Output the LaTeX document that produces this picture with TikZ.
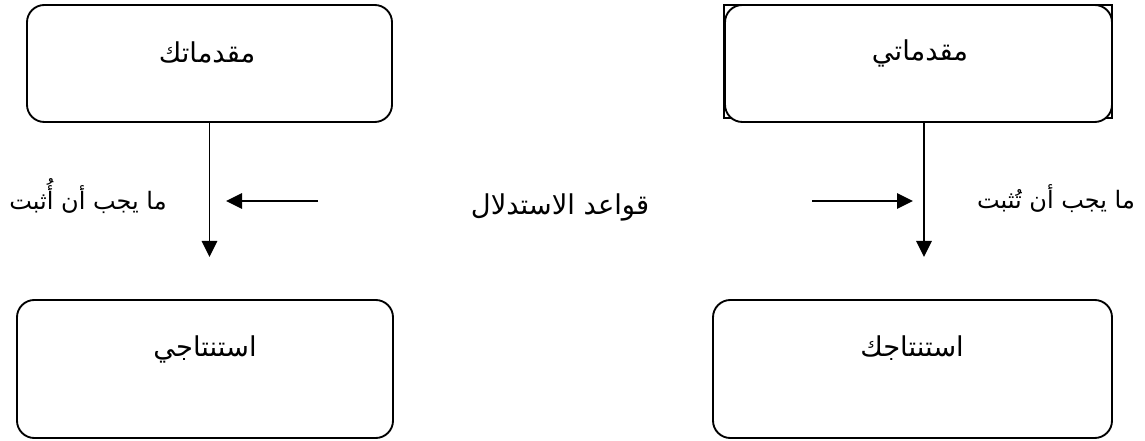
\documentclass[tikz,border=0pt]{standalone}
\usepackage{fontspec}
\newfontfamily\arabicfont[Script=Arabic]{DejaVu Sans}
\TeXXeTstate=1
\usetikzlibrary{arrows.meta}
\newcommand\artext[1]{\beginR #1\endR}
\begin{document}
\begin{tikzpicture}[x=0.75pt,y=-0.75pt, line width=1.4pt,
  box/.style={draw, rounded corners=13pt, fill=white, inner sep=0pt, outer sep=0pt},
  lbl/.style={font=\arabicfont\fontsize{20.5}{24}\selectfont, inner sep=0pt, anchor=base},
  slbl/.style={lbl, font=\arabicfont\fontsize{18}{22}\selectfont},
  arr/.style={-{Triangle[length=12pt,width=11.5pt]}}]
\useasboundingbox (0,0) rectangle (1145,441);
% square frame behind the upper right box
\draw (724,5) rectangle (1112,118);
% boxes
\node[box, minimum width=273.75pt, minimum height=87.75pt] (tl) at (209.5,63.5) {};
\node[box, minimum width=290.25pt, minimum height=87.75pt] (tr) at (918.5,63.5) {};
\node[box, minimum width=282pt, minimum height=103.5pt] (bl) at (205,369) {};
\node[box, minimum width=299.25pt, minimum height=103.5pt] (br) at (912.5,369) {};
% box texts
\node[lbl] (tltext) at (207,63) {\artext{مقدماتك}};
\node[lbl] (trtext) at (920,61) {\artext{مقدماتي}};
\node[lbl] (bltext) at (205,357) {\artext{استنتاجي}};
\node[lbl] (brtext) at (912,357) {\artext{استنتاجك}};
% middle texts
\node[slbl] (lefttext) at (88,210) {\artext{ما يجب أن أُثبت}};
\node[lbl] (midtext) at (560,215) {\artext{قواعد الاستدلال}};
\node[slbl] (righttext) at (1056,209) {\artext{ما يجب أن تُثبت}};
% coordinates
\coordinate (ltip) at (209.5,257);
\coordinate (rtop) at (924,122);
\coordinate (rtip) at (924,257);
\coordinate (lhs) at (318,201);
\coordinate (lhe) at (226,201);
\coordinate (rhs) at (812,201);
\coordinate (rhe) at (913,201);
% arrows
\draw[arr] (tl.south) -- (ltip);
\draw[arr] (rtop) -- (rtip);
\draw[arr] (lhs) -- (lhe);
\draw[arr] (rhs) -- (rhe);
\end{tikzpicture}
\end{document}
